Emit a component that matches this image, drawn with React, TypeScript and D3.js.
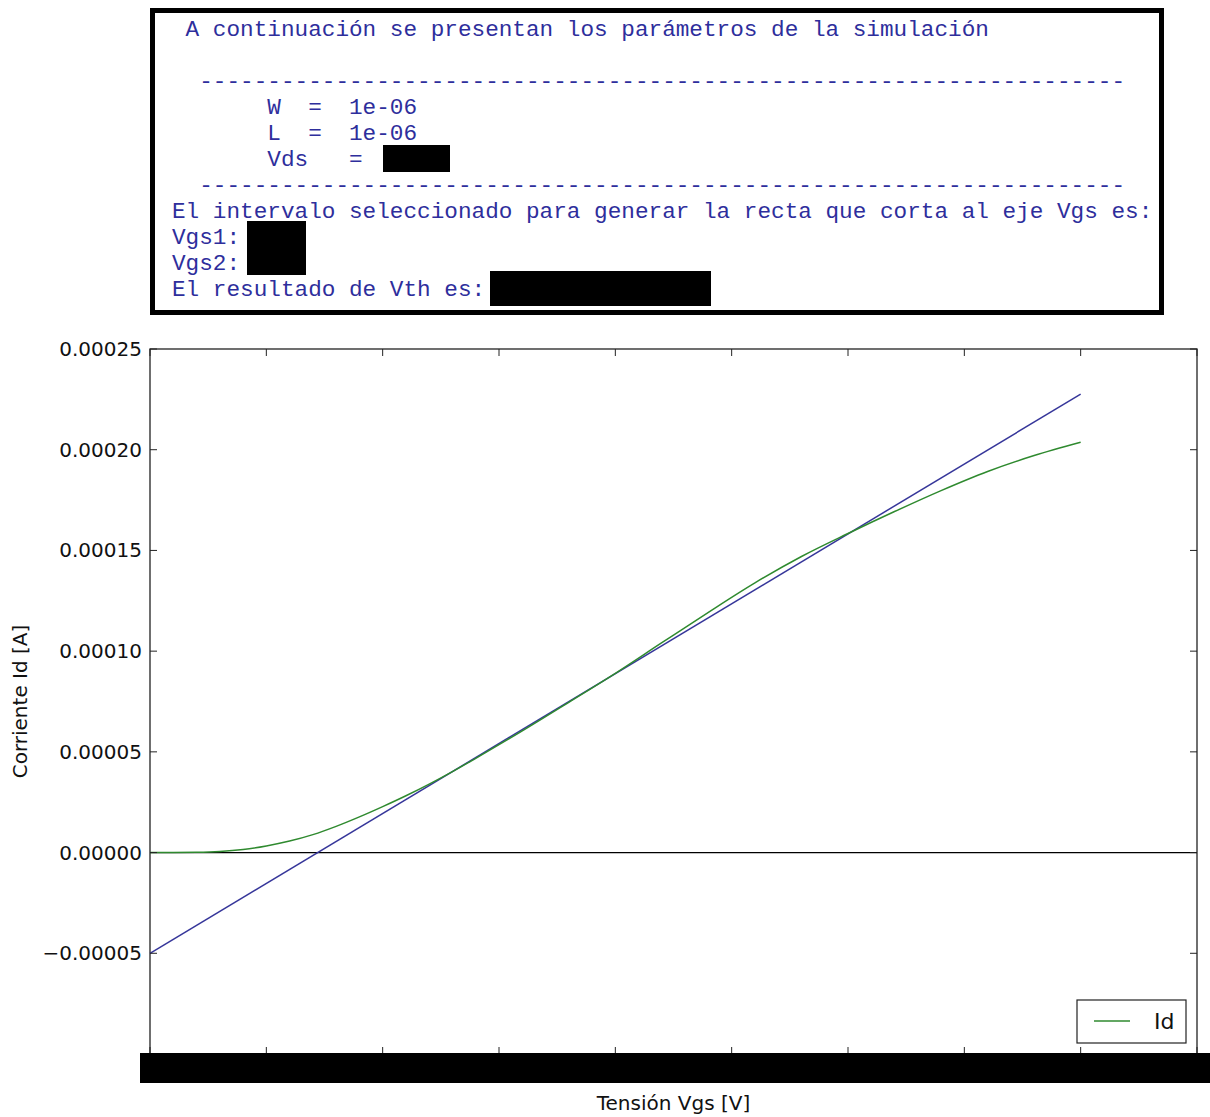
import React from "react";
import * as d3 from "d3";

// parameters box (monospace console output)
const consoleLines = [
  " A continuación se presentan los parámetros de la simulación",
  "",
  "  " + "-".repeat(68),
  "       W  =  1e-06",
  "       L  =  1e-06",
  "       Vds   =",
  "  " + "-".repeat(68),
  "El intervalo seleccionado para generar la recta que corta al eje Vgs es:",
  "Vgs1:",
  "Vgs2:",
  "El resultado de Vth es:",
];

// Id vs Vgs curve
const vgs = [0, 0.1, 0.2, 0.3, 0.4, 0.5, 0.6, 0.7, 0.8, 0.9, 1.0, 1.1, 1.2, 1.3, 1.4, 1.6, 1.8, 2.0, 2.2, 2.4, 2.6, 2.8, 3.0, 3.2, 3.4, 3.6, 3.8, 4.0];
const idCurrent = [
  0, 0, 0.0000001, 0.0000005, 0.0000015, 0.0000033, 0.0000057, 0.0000089, 0.000013, 0.0000177,
  0.0000228, 0.0000282, 0.000034, 0.0000402, 0.0000468, 0.0000604, 0.0000746, 0.000089, 0.0001042,
  0.0001193, 0.0001339, 0.000147, 0.0001584, 0.0001693, 0.0001797, 0.0001892, 0.0001971, 0.0002037,
];

// fitted straight line
const fitVgs = [0, 4.0];
const fitId = [-0.00005, 0.0002276];

const xTicks = [0, 0.5, 1, 1.5, 2, 2.5, 3, 3.5, 4, 4.5];
const yTicks = [-0.00005, 0, 0.00005, 0.0001, 0.00015, 0.0002, 0.00025];

export default function App() {
  const W = 1210;
  const H = 1117;
  const left = 150, right = 1197, top = 349, bottom = 1054;

  const x = d3.scaleLinear().domain([0, 4.5]).range([left, right]);
  const y = d3.scaleLinear().domain([-0.0001, 0.00025]).range([bottom, top]);

  const curve = d3
    .line<number>()
    .x((d, i) => x(vgs[i]))
    .y((d) => y(d))
    .curve(d3.curveMonotoneX);
  const fit = d3
    .line<number>()
    .x((d, i) => x(fitVgs[i]))
    .y((d) => y(d));

  const fmt = d3.format(".5f");
  const mono = "'Liberation Mono', 'Courier New', monospace";
  const sans = "'DejaVu Sans', sans-serif";
  const blueText = "#2e2e9c";
  const tickLen = 7;

  return (
    <div style={{ position: "absolute", left: 0, top: 0 }}>
      <svg width={W} height={H} style={{ display: "block", background: "#fff" }}>
        {/* console box */}
        <rect x={152.5} y={10.5} width={1009} height={302} fill="#fff" stroke="#000" strokeWidth={5} />
        {consoleLines.map((t, i) => (
          <text
            key={i}
            x={172}
            y={36 + i * 26}
            fontFamily={mono}
            fontSize={22.7}
            fill={blueText}
            style={{ whiteSpace: "pre" }}
          >
            {t}
          </text>
        ))}
        {/* redacted values */}
        <rect x={383} y={145} width={67} height={27} fill="#000" />
        <rect x={247} y={221} width={59} height={54} fill="#000" />
        <rect x={490} y={271} width={221} height={35} fill="#000" />

        {/* plot frame */}
        <rect x={left} y={top} width={right - left} height={bottom - top} fill="none" stroke="#222" strokeWidth={1.3} />

        {/* zero line */}
        <line x1={left} x2={right} y1={y(0)} y2={y(0)} stroke="#000" strokeWidth={1.3} />

        <path d={fit(fitId) || ""} fill="none" stroke="#36369a" strokeWidth={1.5} />
        <path d={curve(idCurrent) || ""} fill="none" stroke="#2f8a2f" strokeWidth={1.5} />

        {/* ticks */}
        {xTicks.map((t) => (
          <g key={"x" + t}>
            <line x1={x(t)} x2={x(t)} y1={top} y2={top + tickLen} stroke="#222" />
            <line x1={x(t)} x2={x(t)} y1={bottom} y2={bottom - tickLen} stroke="#222" />
          </g>
        ))}
        {yTicks.map((t) => (
          <g key={"y" + t}>
            <line x1={left} x2={left + tickLen} y1={y(t)} y2={y(t)} stroke="#222" />
            <line x1={right} x2={right - tickLen} y1={y(t)} y2={y(t)} stroke="#222" />
            <text x={left - 8} y={y(t)} dy="0.35em" textAnchor="end" fontFamily={sans} fontSize={20} fill="#111">
              {fmt(t)}
            </text>
          </g>
        ))}

        {/* legend */}
        <rect x={1077} y={1000} width={109} height={43} fill="#fff" stroke="#222" strokeWidth={1.2} />
        <line x1={1094} x2={1130} y1={1021} y2={1021} stroke="#2f8a2f" strokeWidth={1.5} />
        <text x={1154} y={1029} fontFamily={sans} fontSize={22} fill="#111">Id</text>

        {/* redacted x tick labels */}
        <rect x={140} y={1053} width={1070} height={30} fill="#000" />

        {/* axis titles */}
        <text x={(left + right) / 2} y={1110} textAnchor="middle" fontFamily={sans} fontSize={20} fill="#111">
          Tensión Vgs [V]
        </text>
        <text
          transform={`translate(27, ${(top + bottom) / 2}) rotate(-90)`}
          textAnchor="middle"
          fontFamily={sans}
          fontSize={20}
          fill="#111"
        >
          Corriente Id [A]
        </text>
      </svg>
    </div>
  );
}
